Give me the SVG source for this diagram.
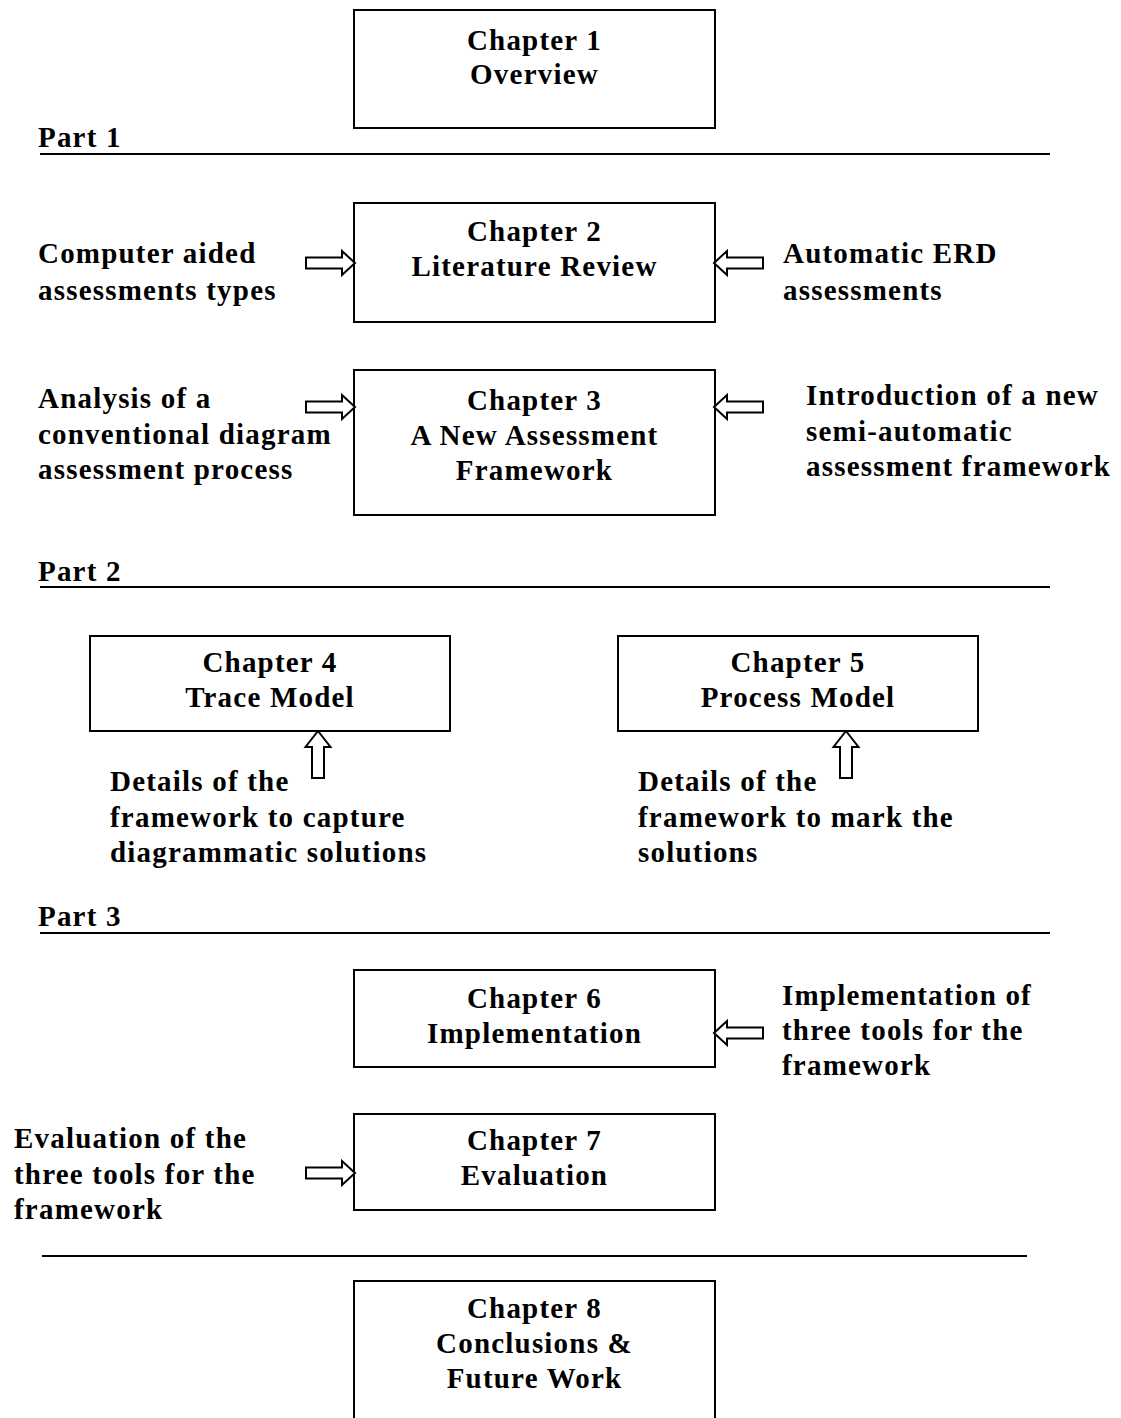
<svg xmlns="http://www.w3.org/2000/svg" xmlns:xlink="http://www.w3.org/1999/xlink" width="1121" height="1418" viewBox="0 0 1121 1418">
  <style>
    .box { fill: #ffffff; stroke: #000000; stroke-width: 2; }
    .rule { stroke: #000000; stroke-width: 2; }
    .t { font-family: "Liberation Serif", "Times New Roman", serif; font-weight: bold; font-size: 29px; fill: #000000; letter-spacing: 1.2px; }
    .c { text-anchor: middle; }
    .arrow { fill: #ffffff; stroke: #000000; stroke-width: 2; stroke-linejoin: miter; }
  </style>
  <defs>
    <!-- hollow block arrow, tip at the origin, pointing right -->
    <path id="blockR" d="M0,0 L-13,-12 L-13,-5.5 L-49,-5.5 L-49,5.5 L-13,5.5 L-13,12 Z"/>
    <!-- hollow block arrow, tip at the origin, pointing up -->
    <path id="blockU" d="M0,0 L12.5,16 L6,16 L6,47 L-6,47 L-6,16 L-12.5,16 Z"/>
  </defs>
  <rect width="1121" height="1418" fill="#ffffff"/>

  <!-- section rules and part labels -->
  <g id="parts">
    <line class="rule" x1="40" y1="154" x2="1050" y2="154"/>
    <text class="t" x="38" y="147">Part 1</text>
    <line class="rule" x1="40" y1="587" x2="1050" y2="587"/>
    <text class="t" x="38" y="581">Part 2</text>
    <line class="rule" x1="40" y1="933" x2="1050" y2="933"/>
    <text class="t" x="38" y="926">Part 3</text>
    <line class="rule" x1="42" y1="1256" x2="1027" y2="1256"/>
  </g>

  <!-- chapter boxes -->
  <g id="ch1">
    <rect class="box" x="354" y="10" width="361" height="118"/>
    <text class="t c" x="534.5" y="50">Chapter 1</text>
    <text class="t c" x="534.5" y="84">Overview</text>
  </g>
  <g id="ch2">
    <rect class="box" x="354" y="203" width="361" height="119"/>
    <text class="t c" x="534.5" y="241">Chapter 2</text>
    <text class="t c" x="534.5" y="276">Literature Review</text>
  </g>
  <g id="ch3">
    <rect class="box" x="354" y="370" width="361" height="145"/>
    <text class="t c" x="534.5" y="410">Chapter 3</text>
    <text class="t c" x="534.5" y="445">A New Assessment</text>
    <text class="t c" x="534.5" y="480">Framework</text>
  </g>
  <g id="ch4">
    <rect class="box" x="90" y="636" width="360" height="95"/>
    <text class="t c" x="270" y="672">Chapter 4</text>
    <text class="t c" x="270" y="707">Trace Model</text>
  </g>
  <g id="ch5">
    <rect class="box" x="618" y="636" width="360" height="95"/>
    <text class="t c" x="798" y="672">Chapter 5</text>
    <text class="t c" x="798" y="707">Process Model</text>
  </g>
  <g id="ch6">
    <rect class="box" x="354" y="970" width="361" height="97"/>
    <text class="t c" x="534.5" y="1008">Chapter 6</text>
    <text class="t c" x="534.5" y="1043">Implementation</text>
  </g>
  <g id="ch7">
    <rect class="box" x="354" y="1114" width="361" height="96"/>
    <text class="t c" x="534.5" y="1150">Chapter 7</text>
    <text class="t c" x="534.5" y="1185">Evaluation</text>
  </g>
  <g id="ch8">
    <rect class="box" x="354" y="1281" width="361" height="160"/>
    <text class="t c" x="534.5" y="1318">Chapter 8</text>
    <text class="t c" x="534.5" y="1353">Conclusions &amp;</text>
    <text class="t c" x="534.5" y="1388">Future Work</text>
  </g>

  <!-- side notes -->
  <g id="note-cas">
    <text class="t" x="38" y="263">Computer aided</text>
    <text class="t" x="38" y="300">assessments types</text>
  </g>
  <g id="note-erd">
    <text class="t" x="783" y="263">Automatic ERD</text>
    <text class="t" x="783" y="300">assessments</text>
  </g>
  <g id="note-analysis">
    <text class="t" x="38" y="408">Analysis of a</text>
    <text class="t" x="38" y="444">conventional diagram</text>
    <text class="t" x="38" y="479">assessment process</text>
  </g>
  <g id="note-intro">
    <text class="t" x="806" y="405">Introduction of a new</text>
    <text class="t" x="806" y="441">semi-automatic</text>
    <text class="t" x="806" y="476">assessment framework</text>
  </g>
  <g id="note-trace">
    <text class="t" x="110" y="791">Details of the</text>
    <text class="t" x="110" y="827">framework to capture</text>
    <text class="t" x="110" y="862">diagrammatic solutions</text>
  </g>
  <g id="note-process">
    <text class="t" x="638" y="791">Details of the</text>
    <text class="t" x="638" y="827">framework to mark the</text>
    <text class="t" x="638" y="862">solutions</text>
  </g>
  <g id="note-impl">
    <text class="t" x="782" y="1005">Implementation of</text>
    <text class="t" x="782" y="1040">three tools for the</text>
    <text class="t" x="782" y="1075">framework</text>
  </g>
  <g id="note-eval">
    <text class="t" x="14" y="1148">Evaluation of the</text>
    <text class="t" x="14" y="1184">three tools for the</text>
    <text class="t" x="14" y="1219">framework</text>
  </g>

  <!-- block arrows from notes into chapters -->
  <g id="connectors">
    <use href="#blockR" xlink:href="#blockR" class="arrow" transform="translate(355,263)"/>
    <use href="#blockR" xlink:href="#blockR" class="arrow" transform="translate(714,263) scale(-1,1)"/>
    <use href="#blockR" xlink:href="#blockR" class="arrow" transform="translate(355,407)"/>
    <use href="#blockR" xlink:href="#blockR" class="arrow" transform="translate(714,407) scale(-1,1)"/>
    <use href="#blockU" xlink:href="#blockU" class="arrow" transform="translate(318,731)"/>
    <use href="#blockU" xlink:href="#blockU" class="arrow" transform="translate(846,731)"/>
    <use href="#blockR" xlink:href="#blockR" class="arrow" transform="translate(714,1033) scale(-1,1)"/>
    <use href="#blockR" xlink:href="#blockR" class="arrow" transform="translate(355,1173)"/>
  </g>
</svg>
